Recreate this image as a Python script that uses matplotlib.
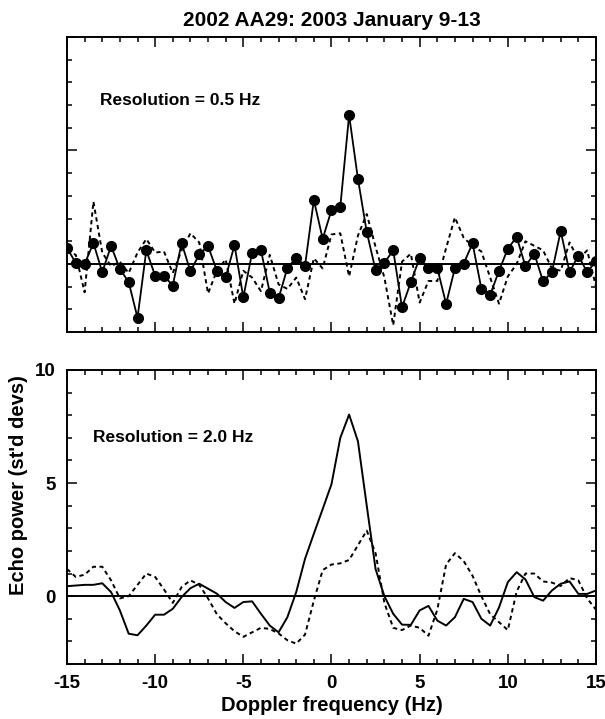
import numpy as np
import matplotlib
matplotlib.use("Agg")
import matplotlib.pyplot as plt
import matplotlib.transforms as mtransforms
from matplotlib.ticker import MultipleLocator

plt.rcParams['font.family'] = ['Liberation Sans', 'DejaVu Sans']
plt.rcParams['font.weight'] = 'bold'
plt.rcParams['axes.unicode_minus'] = False

# Doppler frequency bins (Hz), 0.5 Hz spacing
freq = np.arange(-15, 15.01, 0.5)

# top panel, 0.5 Hz resolution (OC solid with dots, SC dashed)
oc_05 = [0.71, 0.04, 0.0, 0.92, -0.36, 0.79, -0.22, -0.8, -2.37, 0.6,
         -0.52, -0.52, -0.95, 0.93, -0.33, 0.42, 0.79, -0.3, -0.59, 0.83,
         -1.47, 0.49, 0.61, -1.26, -1.51, -0.18, 0.27, -0.07, 2.82, 1.11,
         2.37, 2.52, 6.56, 3.75, 1.41, -0.27, 0.04, 0.61, -1.91, -0.8,
         0.27, -0.18, -0.18, -1.76, -0.18, 0.02, 0.91, -1.09, -1.36, -0.3,
         0.67, 1.19, -0.1, 0.46, -0.77, -0.36, 1.45, -0.36, 0.37, -0.36,
         0.12]
sc_05 = [0.6, 0.4, -1.25, 2.75, 0.5, -0.1, 0.1, -0.4, 0.5, 1.1,
         0.5, 0.55, -0.4, 0.6, 1.35, 0.95, -1.3, -0.3, 0.2, -1.75,
         -0.3, -0.6, -1.2, 0.4, -0.9, -1.1, -0.6, -1.55, 0.25, -0.2,
         1.3, 1.35, -0.55, 1.25, 2.2, 0.75, -0.6, -2.7, 0.1, 0.45,
         -1.7, -0.75, -0.75, 0.7, 2.05, 1.15, 0.8, 0.55, -0.6, -1.75,
         -0.55, 0.0, 1.0, 0.8, 0.6, -0.2, -0.3, 0.95, 0.2, 0.6,
         -1.0]

# bottom panel, 2.0 Hz resolution
oc_20 = [0.44, 0.47, 0.5, 0.5, 0.57, 0.18, -0.63, -1.66, -1.73, -1.3,
         -0.82, -0.82, -0.56, -0.04, 0.35, 0.55, 0.33, 0.11, -0.26, -0.52,
         -0.26, -0.23, -0.78, -1.3, -1.6, -0.93, 0.18, 1.65, 2.76, 3.85,
         4.95, 7.0, 8.03, 6.85, 4.0, 1.2, 0.0, -0.78, -1.26, -1.27,
         -0.63, -0.43, -1.08, -1.3, -0.93, -0.12, -0.26, -1.0, -1.3, -0.5,
         0.62, 1.06, 0.74, -0.04, -0.2, 0.25, 0.55, 0.65, 0.1, 0.1,
         0.25]
sc_20 = [1.2, 0.85, 0.95, 1.3, 1.3, 0.7, -0.1, 0.0, 0.5, 1.0,
         0.85, 0.3, -0.3, 0.4, 0.7, 0.5, -0.1, -0.8, -1.2, -1.55,
         -1.8, -1.6, -1.4, -1.45, -1.65, -1.95, -2.1, -1.7, -0.2, 1.15,
         1.4, 1.45, 1.6, 2.25, 2.9, 1.9, -0.3, -1.4, -1.5, -1.3,
         -1.4, -1.75, -0.6, 1.4, 1.9, 1.55, 0.9, 0.0, -0.8, -1.15,
         -1.5, 0.2, 1.0, 1.0, 0.65, 0.6, 0.45, 0.8, 0.7, -0.1,
         -0.6]

fig = plt.figure(figsize=(6.05, 7.19), dpi=100)
ax1 = fig.add_axes([0.1107, 0.5382, 0.8744, 0.4103])
ax2 = fig.add_axes([0.1107, 0.0765, 0.8744, 0.4089])


def style_axes(ax):
    ax.set_xlim(-15, 15)
    ax.set_ylim(-3, 10)
    ax.xaxis.set_major_locator(MultipleLocator(5))
    ax.xaxis.set_minor_locator(MultipleLocator(1))
    ax.yaxis.set_major_locator(MultipleLocator(5))
    ax.yaxis.set_minor_locator(MultipleLocator(1))
    ax.tick_params(which='both', direction='in', top=True, right=True,
                   width=1.1, color='black')
    ax.tick_params(which='major', length=7)
    ax.tick_params(which='minor', length=3.5)
    for sp in ax.spines.values():
        sp.set_linewidth(1.4)
    ax.axhline(0, color='black', lw=1.4, zorder=1)


# top panel
style_axes(ax1)
ax1.plot(freq, sc_05, color='black', lw=1.4, linestyle=(0, (2.2, 1.8)))
ax1.plot(freq, oc_05, color='black', lw=1.3, marker='o', markersize=7)
ax1.tick_params(labelbottom=False, labelleft=False)
ax1.text(-13.1, 7.2, 'Resolution = 0.5 Hz', fontsize=12.5, fontweight='bold',
         va='center', ha='left')
ax1.set_title('2002 AA29: 2003 January 9-13', fontsize=15,
              fontweight='bold', pad=8)

# bottom panel
style_axes(ax2)
ax2.plot(freq, sc_20, color='black', lw=1.4, linestyle=(0, (2.2, 1.8)))
ax2.plot(freq, oc_20, color='black', lw=1.4)
ax2.tick_params(which='major', labelsize=13.5, pad=8)
for lab in ax2.get_xticklabels() + ax2.get_yticklabels():
    lab.set_fontweight('bold')
# nudge the last x label so it stays inside the figure
last = ax2.get_xticklabels()[-1]
last.set_transform(last.get_transform() +
                   mtransforms.ScaledTranslation(-5 / 100, 0, fig.dpi_scale_trans))
ax2.text(-13.5, 7.0, 'Resolution = 2.0 Hz', fontsize=12.5, fontweight='bold',
         va='center', ha='left')
ax2.set_xlabel('Doppler frequency (Hz)', fontsize=14.5, fontweight='bold',
               labelpad=3)
ax2.set_ylabel("Echo power (st'd devs)", fontsize=14.5, fontweight='bold')
ax2.yaxis.set_label_coords(-0.074, 0.61)

fig.savefig('out.png', dpi=100)
